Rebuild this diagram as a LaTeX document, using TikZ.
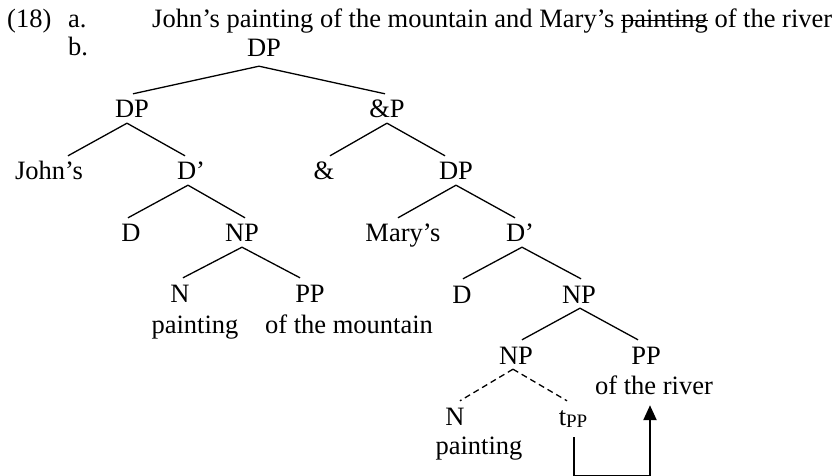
\documentclass[tikz,border=0pt]{standalone}
\usepackage{fontspec}
\setmainfont{Liberation Serif}
\usetikzlibrary{arrows.meta}
\newsavebox\strkbox
\newcommand\mystrike[1]{\sbox\strkbox{#1}\rlap{\usebox\strkbox}\rule[0.25em]{\wd\strkbox}{1.2pt}}
\begin{document}
\begin{tikzpicture}[x=1pt,y=-1pt,
  every node/.style={font=\fontsize{26.5}{30}\selectfont, inner sep=0pt},
  tn/.style={text height=24pt, text depth=5pt, anchor=base},
  txt/.style={anchor=base west},
  branch/.style={line width=1.3pt},
  dbranch/.style={line width=1.3pt, dash pattern=on 6pt off 4pt},
  move/.style={line width=2.3pt, -{Triangle[length=15pt,width=13pt]}}]
\useasboundingbox (0,0) rectangle (839,476);
% header
\node[txt] (ex) at (7,28) {(18)};
\node[txt] (la) at (68,28) {a.};
\node[txt] (sent) at (152,28) {John’s painting of the mountain and Mary’s \mystrike{painting} of the river};
\node[txt] (lb) at (68,56) {b.};
% tree nodes
\node[tn] (dp0) at (264,57) {DP};
\node[tn] (dp1) at (132,118) {DP};
\node[tn] (ap) at (387,118) {\&P};
\node[tn] (john) at (49,180) {John’s};
\node[tn] (dbar1) at (191,180) {D’};
\node[tn] (amp) at (324,180) {\&};
\node[tn] (dp2) at (456,180) {DP};
\node[tn] (d1) at (131,242) {D};
\node[tn] (np1) at (242,242) {NP};
\node[tn] (mary) at (403,242) {Mary’s};
\node[tn] (dbar2) at (520,242) {D’};
\node[tn] (n1) at (180,302) {N};
\node[tn] (pp1) at (310,302) {PP};
\node[tn] (paint1) at (195,333) {painting};
\node[tn] (mount) at (349,333) {of the mountain};
\node[tn] (d2) at (462,303) {D};
\node[tn] (np2) at (579,303) {NP};
\node[tn] (np3) at (516,364) {NP};
\node[tn] (pp2) at (646,364) {PP};
\node[tn] (river) at (654,394) {of the river};
\node[tn] (n2) at (455,425) {N};
\node[tn] (tpp) at (573,425) {t\raisebox{-2pt}{\fontsize{19}{19}\selectfont PP}};
\node[tn] (paint2) at (479,454) {painting};
\coordinate (bl) at (574,476.6);
\coordinate (br) at (650,476.6);
% branches
\draw[branch] ([xshift=-5pt,yshift=-4pt]dp0.south) -- ([xshift=1pt]dp1.north);
\draw[branch] ([xshift=-5pt,yshift=-4pt]dp0.south) -- ([xshift=-2pt]ap.north);
\draw[branch] ([xshift=-5pt]dp1.south) -- ([xshift=19pt]john.north);
\draw[branch] ([xshift=-5pt]dp1.south) -- ([xshift=-6pt]dbar1.north);
\draw[branch] (ap.south) -- ([xshift=6pt]amp.north);
\draw[branch] (ap.south) -- ([xshift=-11pt]dp2.north);
\draw[branch] ([xshift=-3pt]dbar1.south) -- ([xshift=-3pt]d1.north);
\draw[branch] ([xshift=-3pt]dbar1.south) -- ([xshift=3pt]np1.north);
\draw[branch] (dp2.south) -- ([xshift=-5pt]mary.north);
\draw[branch] (dp2.south) -- ([xshift=-5pt]dbar2.north);
\draw[branch] (np1.south) -- ([xshift=3pt]n1.north);
\draw[branch] (np1.south) -- ([xshift=-10pt]pp1.north);
\draw[branch] ([xshift=2pt]dbar2.south) -- ([xshift=1pt]d2.north);
\draw[branch] ([xshift=2pt]dbar2.south) -- ([xshift=2pt]np2.north);
\draw[branch] ([xshift=1pt]np2.south) -- ([xshift=6pt]np3.north);
\draw[branch] ([xshift=1pt]np2.south) -- ([xshift=-8pt]pp2.north);
\draw[dbranch] ([xshift=-3pt]np3.south) -- ([xshift=5pt]n2.north);
\draw[dbranch] ([xshift=-3pt]np3.south) -- ([xshift=-6pt]tpp.north);
% movement arrow
\draw[move] ([xshift=1pt,yshift=-7pt]tpp.south) -- (bl) -- (br) -- ([xshift=-4pt,yshift=-6pt]river.south);
\end{tikzpicture}
\end{document}
